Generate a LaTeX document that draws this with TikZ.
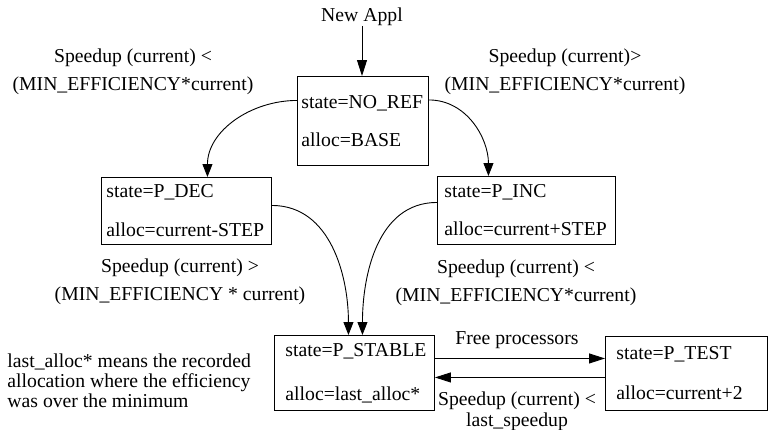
\documentclass[tikz,border=0pt]{standalone}
\usepackage{fontspec}
\setmainfont{Liberation Serif}
\usetikzlibrary{arrows.meta}
\exhyphenpenalty=10000

\tikzset{
  statebox/.style n args={3}{draw, anchor=north west, align=left,
    text width=#1, minimum height=#2, inner xsep=#3, inner ysep=0pt},
  edgelabel/.style={align=center, inner sep=0pt,
    font=\fontsize{19.7bp}{27.5bp}\selectfont},
  arrowlong/.style={-{Triangle[length=16bp,width=10bp]}},
  arrowshort/.style={-{Triangle[length=13bp,width=10bp]}}
}

\begin{document}
\begin{tikzpicture}[x=1bp, y=-1bp, line width=0.9bp,
    every node/.style={font=\fontsize{19.7bp}{23bp}\selectfont}]
\useasboundingbox (0,0) rectangle (768,429);

\node[statebox={123bp}{89bp}{4bp}] (noref) at (297,76) {state=NO\_REF\\[15bp]alloc=BASE};
\node[statebox={160bp}{67bp}{5bp}] (pdec) at (101,177) {state=P\_DEC\\[16bp]alloc=current-STEP};
\node[statebox={164bp}{68bp}{7bp}] (pinc) at (437,176) {state=P\_INC\\[15bp]alloc=current+STEP};
\node[statebox={138bp}{75bp}{11bp}] (pstable) at (274,335) {state=P\_STABLE\\[21bp]alloc=last\_alloc*};
\node[statebox={140bp}{74bp}{11bp}] (ptest) at (605,336) {state=P\_TEST\\[17bp]alloc=current+2};

\node[inner sep=0pt] (newappl) at (362,16.4) {New Appl};
\node[edgelabel] (lbldec) at (133,71.8) {Speedup (current) <\\(MIN\_EFFICIENCY*current)};
\node[edgelabel] (lblinc) at (565,71.8) {Speedup (current)>\\(MIN\_EFFICIENCY*current)};
\node[edgelabel] (lbldecstable) at (180,281.8) {Speedup (current) >\\(MIN\_EFFICIENCY * current)};
\node[edgelabel] (lblincstable) at (516,282.8) {Speedup (current) <\\(MIN\_EFFICIENCY*current)};
\node[inner sep=0pt] (lblfree) at (517,340.4) {Free processors};
\node[edgelabel, font=\fontsize{19.7bp}{21bp}\selectfont] (lblback) at (517,410.9) {Speedup (current) <\\last\_speedup};
\node[anchor=west, align=left, inner sep=0pt, font=\fontsize{19.7bp}{20bp}\selectfont] (note) at (7,380.3)
  {last\_alloc* means the recorded\\allocation where the efficiency\\was over the minimum};

\draw[arrowlong] (newappl.south) -- (newappl.south |- noref.north);
\draw[arrowshort] ([yshift=20.5bp]noref.west) to[out=180,in=90] ([xshift=21bp]pdec.north);
\draw[arrowshort] ([yshift=21bp]noref.east) to[out=0,in=90] ([xshift=-38bp]pinc.north);
\draw[arrowshort] ([yshift=5.5bp]pdec.east) to[out=0,in=90] ([xshift=-6bp]pstable.north);
\draw[arrowshort] ([yshift=8bp]pinc.west) to[out=180,in=90] ([xshift=8bp]pstable.north);
\coordinate (freeA) at ([yshift=14.5bp]pstable.east);
\coordinate (backA) at ([yshift=-4.5bp]pstable.east);
\draw[arrowlong] (freeA) -- (freeA -| ptest.west);
\draw[arrowlong] (backA -| ptest.west) -- (backA);
\end{tikzpicture}
\end{document}
